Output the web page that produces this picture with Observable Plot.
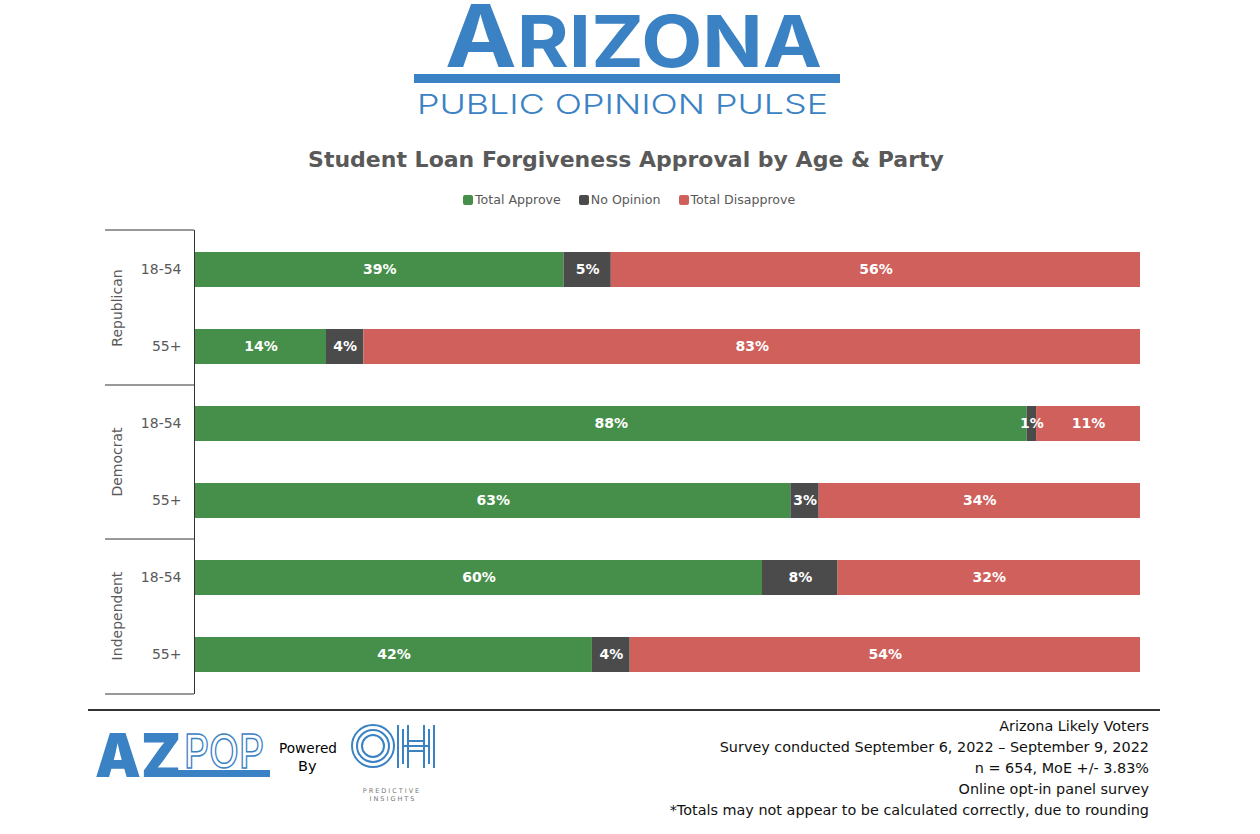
<!DOCTYPE html>
<html><head><meta charset="utf-8">
<script src="https://cdn.jsdelivr.net/npm/d3@7"></script>
<script src="https://cdn.jsdelivr.net/npm/@observablehq/plot@0.6"></script>
<style>
body{margin:0;background:#fff;width:1260px;height:834px;position:relative;overflow:hidden;font-family:"DejaVu Sans",Verdana,sans-serif;}
.abs{position:absolute;}
#title{top:147px;left:0;width:1252px;text-align:center;font-weight:bold;font-size:22px;color:#595959;}
#legend{top:192px;left:463px;display:flex;align-items:center;font-size:12.6px;color:#595959;white-space:nowrap;}
#legend .sw{display:inline-block;width:10px;height:10px;border-radius:2px;margin-right:2px;}
#legend .it{display:flex;align-items:center;margin-right:18px;}
#chart{left:0;top:220px;}
#rule{left:88px;top:709px;width:1072px;height:2px;background:#333;}
#foot{right:111px;top:716px;text-align:right;font-size:14.4px;line-height:21px;color:#111;white-space:nowrap;}
</style></head>
<body>
<svg class="abs" style="left:0;top:0" width="1260" height="125">
  <text x="445" y="67" fill="#3b82c4" font-family="Inter, Lato, sans-serif" font-weight="700" textLength="377" lengthAdjust="spacingAndGlyphs"><tspan font-size="86">A</tspan><tspan font-size="71">RIZONA</tspan></text>
  <rect x="414" y="74" width="426" height="9" fill="#3b82c4"/>
  <text x="417" y="114" fill="#3b82c4" font-family="Inter, Lato, sans-serif" font-weight="300" font-size="27.5" textLength="411" lengthAdjust="spacingAndGlyphs">PUBLIC OPINION PULSE</text>
</svg>
<div id="title" class="abs">Student Loan Forgiveness Approval by Age &amp; Party</div>
<div id="legend" class="abs"></div>
<div id="chart" class="abs"></div>
<div id="rule" class="abs"></div>
<svg class="abs" style="left:0;top:715px" width="460" height="119">
  <g transform="translate(0,-715)">
    <text x="95" y="777" fill="#3b82c4" font-family="Inter, sans-serif" font-weight="900" font-size="60" textLength="86" lengthAdjust="spacingAndGlyphs">AZ</text>
    <rect x="145" y="770" width="125" height="7" fill="#3b82c4"/>
    <text x="184" y="768" fill="#fff" stroke="#3b82c4" stroke-width="1.5" font-family="Inter, sans-serif" font-weight="500" font-size="46" textLength="80" lengthAdjust="spacingAndGlyphs">POP</text>
    <text x="279" y="753" fill="#000" font-family="DejaVu Sans, sans-serif" font-size="14.5" textLength="58" lengthAdjust="spacingAndGlyphs">Powered</text>
    <text x="298" y="771" fill="#000" font-family="DejaVu Sans, sans-serif" font-size="14.5">By</text>
    <g fill="none" stroke="#3b82c4" stroke-width="2">
      <circle cx="373" cy="746" r="21"/>
      <circle cx="373" cy="746" r="16"/>
      <circle cx="373" cy="746" r="11"/>
      <path d="M398 725V768M403 729V764M408 725V768M424 725V768M429 729V764M434 725V768M408 741H424M403 746H429M408 751H424"/>
    </g>
    <text x="392" y="793" fill="#777" font-family="DejaVu Sans, sans-serif" font-size="6.5" text-anchor="middle" letter-spacing="2">PREDICTIVE</text>
    <text x="393" y="801" fill="#777" font-family="DejaVu Sans, sans-serif" font-size="6.5" text-anchor="middle" letter-spacing="2">INSIGHTS</text>
  </g>
</svg>
<div id="foot" class="abs">Arizona Likely Voters<br>Survey conducted September 6, 2022 – September 9, 2022<br>n = 654, MoE +/- 3.83%<br>Online opt-in panel survey<br>*Totals may not appear to be calculated correctly, due to rounding</div>
<script>
const parties = ["Republican", "Democrat", "Independent"];
const ages = ["18-54", "55+"];
const responses = ["Total Approve", "No Opinion", "Total Disapprove"];
const approve    = [39, 14, 88, 63, 60, 42];
const noOpinion  = [5, 4, 1, 3, 8, 4];
const disapprove = [56, 83, 11, 34, 32, 54];
const colors = ["#468f4a", "#4b4b4b", "#d0605c"];

const rows = [];
parties.forEach(p => ages.forEach(a => rows.push({party: p, age: a, key: p + "|" + a})));
const keys = rows.map(r => r.key);
const series = [approve, noOpinion, disapprove];
const table = [];
rows.forEach((r, i) => responses.forEach((resp, j) => table.push({...r, response: resp, value: series[j][i]})));

// legend
const leg = document.getElementById("legend");
responses.forEach((r, i) => {
  const it = document.createElement("span");
  it.className = "it";
  it.innerHTML = `<span class="sw" style="background:${colors[i]}"></span>${r}`;
  leg.appendChild(it);
});

const padIn = 0.547;
function groupMark(index, scales, values, dim) {
  const y = scales.y;
  const step = y(keys[1]) - y(keys[0]);
  const bw = typeof y.bandwidth === "function" ? y.bandwidth() : step * (1 - padIn);
  const g = d3.create("svg:g");
  const x0 = dim.marginLeft - 90, x1 = dim.marginLeft - 1;
  const bounds = [dim.marginTop];
  parties.forEach((p, i) => {
    const a = y(p + "|" + ages[0]), b = y(p + "|" + ages[1]);
    const c = (a + b) / 2 + bw / 2;
    g.append("text").attr("transform", `translate(${x0 + 12},${c}) rotate(-90)`)
      .attr("text-anchor", "middle").attr("dy", "0.35em")
      .attr("fill", "#595959").attr("font-size", 14).text(p);
    if (i < parties.length - 1) {
      const n = y(parties[i + 1] + "|" + ages[0]);
      bounds.push((b + n) / 2 + bw / 2);
    }
  });
  bounds.push(dim.height - dim.marginBottom);
  bounds.forEach(v => g.append("line").attr("x1", x0).attr("x2", x1).attr("y1", v).attr("y2", v)
    .attr("stroke", "#333").attr("stroke-width", 1));
  return g.node();
}

const stackOpts = {x: "value", y: "key", z: "response", order: responses, offset: "normalize"};
const chart = Plot.plot({
  width: 1260, height: 484,
  marginTop: 10, marginBottom: 10, marginLeft: 195, marginRight: 120,
  style: {fontFamily: "DejaVu Sans, Verdana, sans-serif", background: "transparent"},
  x: {domain: [0, 1], axis: null},
  y: {domain: keys, paddingInner: padIn, paddingOuter: padIn / 2},
  color: {domain: responses, range: colors},
  marks: [
    Plot.barX(table, Plot.stackX({...stackOpts, fill: "response"})),
    Plot.text(table, Plot.stackX({...stackOpts, text: d => d.value + "%", fill: "white", fontWeight: "bold", fontSize: 14})),
    Plot.axisY({tickFormat: d => d.split("|")[1], tickSize: 0, tickPadding: 14, fontSize: 14, color: "#595959", label: null}),
    Plot.ruleX([0], {stroke: "#333", dx: -1}),
    groupMark
  ]
});
document.getElementById("chart").appendChild(chart);
</script>
</body></html>
